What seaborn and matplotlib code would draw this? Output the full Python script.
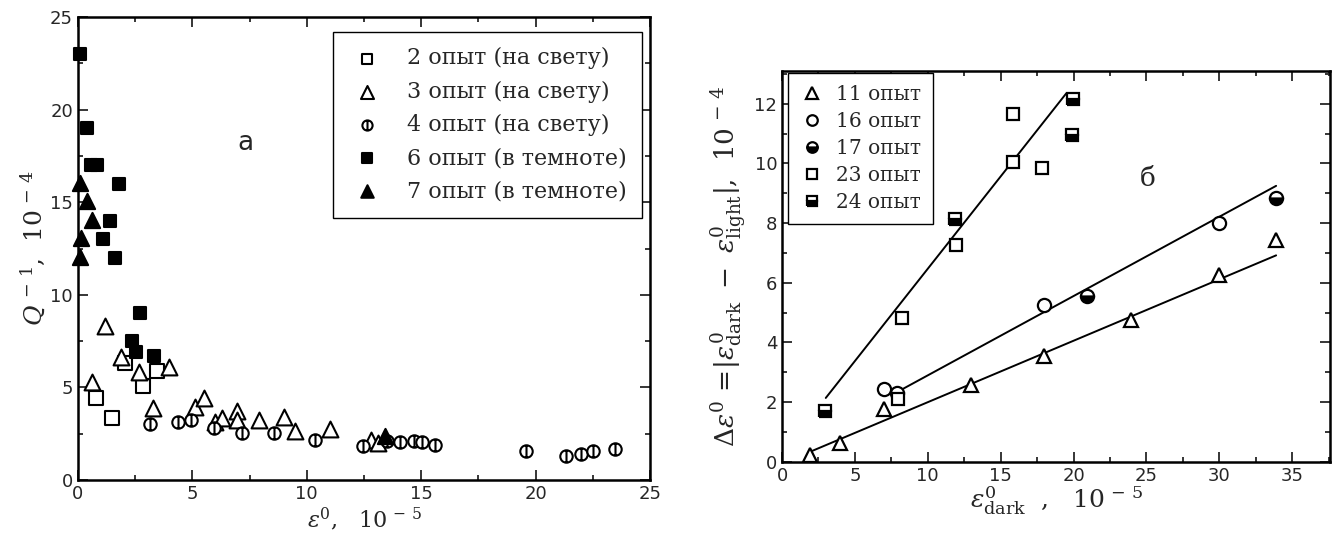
import numpy as np
import matplotlib
matplotlib.use('Agg')
import matplotlib.pyplot as plt
from matplotlib.path import Path
from matplotlib.ticker import MultipleLocator
import seaborn as sns

# --- панель а: Q^-1 от амплитуды деформации ---
sq2_x = [0.77, 1.50, 2.05, 2.85, 3.44]
sq2_y = [4.45, 3.35, 6.30, 5.10, 5.90]

tri3_x = [0.6, 1.19, 1.9, 2.68, 3.3, 3.97, 5.1, 5.5, 6.0, 6.3, 6.96, 6.96, 7.89, 9.0, 9.48, 11.0, 12.8, 13.1]
tri3_y = [5.28, 8.3, 6.65, 5.82, 3.87, 6.1, 3.93, 4.41, 3.15, 3.33, 3.75, 3.26, 3.26, 3.41, 2.66, 2.75, 2.15, 2.0]

phi4_x = [3.17, 4.35, 4.95, 5.95, 7.15, 8.57, 10.37, 12.45, 13.5, 14.06, 14.7, 15.05, 15.6,
          19.56, 21.34, 21.97, 22.53, 23.45]
phi4_y = [3.01, 3.12, 3.24, 2.81, 2.55, 2.56, 2.15, 1.86, 2.1, 2.04, 2.12, 2.04, 1.89,
          1.57, 1.31, 1.4, 1.58, 1.66]

sq6_x = [0.09, 0.38, 0.55, 0.84, 1.78, 1.40, 1.10, 1.62, 2.71, 2.34, 2.53, 3.32]
sq6_y = [23.0, 19.0, 17.0, 17.0, 16.0, 14.0, 13.0, 12.0, 9.0, 7.5, 6.9, 6.7]

tri7_x = [0.09, 0.41, 0.63, 0.13, 0.09, 13.4]
tri7_y = [16.05, 15.05, 14.05, 13.05, 12.05, 2.4]

labels_a = ['2 опыт (на свету)', '3 опыт (на свету)', '4 опыт (на свету)',
            '6 опыт (в темноте)', '7 опыт (в темноте)']

# --- панель б: разница амплитуд ---
t11_x = [1.9, 3.97, 7.0, 12.96, 17.96, 23.97, 29.95, 33.9]
t11_y = [0.22, 0.64, 1.76, 2.57, 3.54, 4.75, 6.25, 7.43]
c16_x = [7.0, 7.87, 17.96, 29.95]
c16_y = [2.43, 2.29, 5.25, 8.0]
c17_x = [20.94, 33.9]
c17_y = [5.56, 8.85]
s23_x = [7.94, 8.22, 11.93, 15.85, 15.85, 17.85]
s23_y = [2.1, 4.83, 7.28, 11.67, 10.05, 9.86]
s24_x = [2.94, 11.88, 19.87, 19.96]
s24_y = [1.70, 8.15, 10.95, 12.15]

labels_b = ['11 опыт', '16 опыт', '17 опыт', '23 опыт', '24 опыт']

# линии аппроксимации (концы отрезков)
fit_steep_x = [3.0, 19.5]
fit_steep_y = [2.14, 12.35]
fit_mid_x = [7.94, 33.9]
fit_mid_y = [2.35, 9.25]
fit_low_x = [1.9, 33.9]
fit_low_y = [0.33, 6.92]

sns.set_theme(style='ticks')
plt.rcParams['font.family'] = ['DejaVu Sans']
plt.rcParams['mathtext.fontset'] = 'dejavuserif'
plt.rcParams['xtick.direction'] = 'in'
plt.rcParams['ytick.direction'] = 'in'
plt.rcParams['axes.linewidth'] = 1.8
plt.rcParams['axes.edgecolor'] = 'black'

# маркер "кружок с вертикальной чертой"
circ = Path.unit_circle()
bar = Path([[0, -1], [0, 1]], [Path.MOVETO, Path.LINETO])
phi_marker = Path.make_compound_path(circ, bar)

fig = plt.figure(figsize=(13.35, 5.42), dpi=100)
ax1 = fig.add_axes([0.0584, 0.1144, 0.4285, 0.8542])
ax2 = fig.add_axes([0.5858, 0.148, 0.4105, 0.721])

serif = 'DejaVu Serif'
ek = dict(edgecolor='black', linewidth=1.5, clip_on=False, zorder=3)

sns.scatterplot(x=sq2_x, y=sq2_y, marker='s', s=90, facecolor='white', label=labels_a[0], ax=ax1, **ek)
sns.scatterplot(x=tri3_x, y=tri3_y, marker='^', s=130, facecolor='white', label=labels_a[1], ax=ax1, **ek)
sns.scatterplot(x=phi4_x, y=phi4_y, marker=phi_marker, s=80, facecolor='white', label=labels_a[2], ax=ax1, **ek)
sns.scatterplot(x=sq6_x, y=sq6_y, marker='s', s=85, color='black', label=labels_a[3], ax=ax1, **ek)
sns.scatterplot(x=tri7_x, y=tri7_y, marker='^', s=120, color='black', label=labels_a[4], ax=ax1, **ek)

ax1.set_xlim(0, 25)
ax1.set_ylim(0, 25)
ax1.xaxis.set_major_locator(MultipleLocator(5))
ax1.xaxis.set_minor_locator(MultipleLocator(2.5))
ax1.yaxis.set_major_locator(MultipleLocator(5))
ax1.yaxis.set_minor_locator(MultipleLocator(2.5))
ax1.set_xlabel(r'$\varepsilon^{0}$,   10$^{\,-\,5}$', fontsize=16, family=serif, labelpad=2)
ax1.set_ylabel(r'$Q^{\,-\,1}$,  10$^{\,-\,4}$', fontsize=18, family=serif, labelpad=2)
ax1.text(7.3, 18.2, 'а', fontsize=19, ha='center', va='center')
leg1 = ax1.legend(loc='upper right', bbox_to_anchor=(0.986, 0.968), borderaxespad=0,
                  prop={'family': serif, 'size': 16}, labelspacing=0.5, handletextpad=1.0,
                  handlelength=1.6, markerscale=0.82,
                  fancybox=False, edgecolor='black', framealpha=1, borderpad=0.7)
leg1.get_frame().set_linewidth(1.0)

# панель б
lk = dict(color='black', linewidth=1.4, ax=ax2)
sns.lineplot(x=fit_steep_x, y=fit_steep_y, **lk)
sns.lineplot(x=fit_mid_x, y=fit_mid_y, **lk)
sns.lineplot(x=fit_low_x, y=fit_low_y, **lk)

mk = dict(linestyle='none', markeredgecolor='black', markeredgewidth=1.6, zorder=3)
h11, = ax2.plot(t11_x, t11_y, marker='^', markersize=10, markerfacecolor='white', label=labels_b[0], **mk)
h16, = ax2.plot(c16_x, c16_y, marker='o', markersize=9.5, markerfacecolor='white', label=labels_b[1], **mk)
h17, = ax2.plot(c17_x, c17_y, marker='o', markersize=9.5, markerfacecolor='black', fillstyle='bottom',
                markerfacecoloralt='white', label=labels_b[2], **mk)
h23, = ax2.plot(s23_x, s23_y, marker='s', markersize=9, markerfacecolor='white', label=labels_b[3], **mk)
h24, = ax2.plot(s24_x, s24_y, marker='s', markersize=9, markerfacecolor='black', fillstyle='bottom',
                markerfacecoloralt='white', label=labels_b[4], **mk)

ax2.set_xlim(0, 37.6)
ax2.set_ylim(0, 13.1)
ax2.xaxis.set_major_locator(MultipleLocator(5))
ax2.xaxis.set_minor_locator(MultipleLocator(2.5))
ax2.yaxis.set_major_locator(MultipleLocator(2))
ax2.yaxis.set_minor_locator(MultipleLocator(1))
ax2.set_xlabel(r'$\varepsilon^{0}_{\mathrm{dark}}$  ,   10$^{\,-\,5}$', fontsize=18, family=serif, labelpad=0)
ax2.set_ylabel(r'$\Delta\varepsilon^{0}\,=\!|\varepsilon^{0}_{\mathrm{dark}}\ -\ \varepsilon^{0}_{\mathrm{light}}|$,  10$^{\,-\,4}$',
               fontsize=19, family=serif, labelpad=4)
ax2.text(25.1, 9.5, 'б', fontsize=19, family=serif, ha='center', va='center')
leg2 = ax2.legend(handles=[h11, h16, h17, h23, h24], loc='upper left', bbox_to_anchor=(0.01, 0.995),
                  borderaxespad=0, prop={'family': serif, 'size': 14.5}, labelspacing=0.4,
                  handletextpad=0.6, handlelength=1.2, markerscale=0.8, fancybox=False, edgecolor='black',
                  framealpha=1, borderpad=0.6)
leg2.get_frame().set_linewidth(1.0)

for ax in (ax1, ax2):
    ax.tick_params(which='both', top=True, right=True, direction='in', labelsize=13, width=1.3)
    ax.tick_params(which='major', length=7)
    ax.tick_params(which='minor', length=3.5)
    for sp in ax.spines.values():
        sp.set_visible(True)
        sp.set_linewidth(1.8)

fig.savefig('out.png', dpi=100, facecolor='white')
